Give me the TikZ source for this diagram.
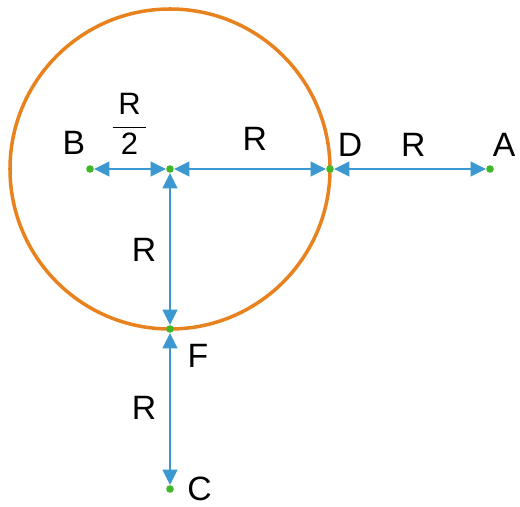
\documentclass[tikz,border=0pt]{standalone}
\usepackage{fontspec}
\usepackage{amsmath}
\setmainfont{Liberation Sans}
\usetikzlibrary{arrows.meta, positioning}

\definecolor{ringorange}{RGB}{232,130,30}
\definecolor{arrowblue}{RGB}{60,152,208}
\definecolor{dotgreen}{RGB}{64,184,40}

\begin{document}
\begin{tikzpicture}[
    pt/.style    = {circle, fill=dotgreen, minimum size=0.19cm, inner sep=0pt},
    lbl/.style   = {font=\fontsize{24}{28}\selectfont},
    dist/.style  = {{Triangle[length=3.8mm, width=3.6mm]}-{Triangle[length=3.8mm, width=3.6mm]},
                    draw=arrowblue, line width=1.9pt},
    ring/.style  = {draw=ringorange, line width=2.5pt},
]
\useasboundingbox (-4.25,-8.425) rectangle (8.75,4.225);

%% ---- Radius ----
\def\R{4}

%% ---- Circle ----
\draw[ring] (0,0) circle (\R);

%% ---- Points ----
\node[pt] (O) at (0,0) {};
\node[pt] (B) at ({-\R/2},0) {};
\node[pt] (D) at (\R,0) {};
\node[pt] (A) at ({2*\R},0) {};
\node[pt] (F) at (0,-\R) {};
\node[pt] (C) at (0,{-2*\R}) {};

%% ---- Distances ----
\draw[dist] (B) -- (O);
\draw[dist] (O) -- (D);
\draw[dist] (D) -- (A);
\draw[dist] (O) -- (F);
\draw[dist] (F) -- (C);

%% ---- Labels ----
\node[lbl] (lB) at (-2.4,0.66) {B};
\node[lbl] (lD) at (4.5,0.6) {D};
\node[lbl] (lA) at (8.35,0.6) {A};
\node[lbl] (lF) at (0.7,-4.66) {F};
\node[lbl] (lC) at (0.74,-8.0) {C};

\node[font=\fontsize{22}{26}\selectfont] (lBO) at (-1.01,1.125)
    {$\dfrac{\mathrm{R}}{\;\mathrm{2}\;}$};
\node[lbl] (lOD) at (2.12,0.76) {R};
\node[lbl] (lDA) at (6.08,0.6) {R};
\node[lbl] (lOF) at (-0.65,-2.01) {R};
\node[lbl] (lFC) at (-0.65,-5.96) {R};

\end{tikzpicture}
\end{document}
